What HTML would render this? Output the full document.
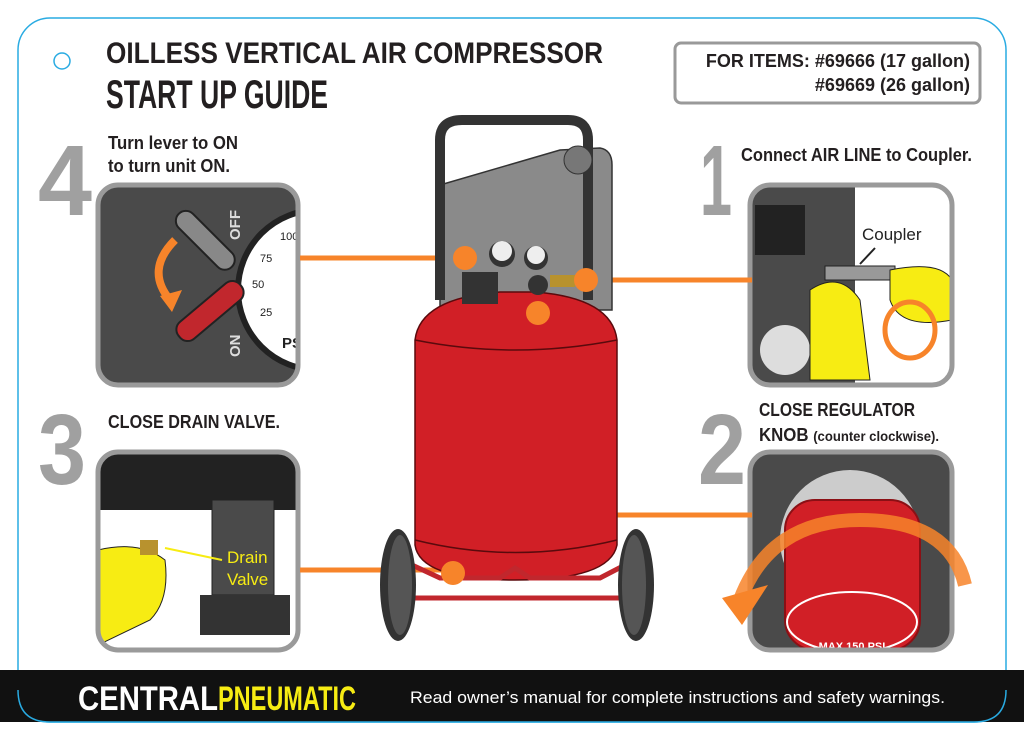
<!DOCTYPE html>
<html><head><meta charset="utf-8"><style>
body{margin:0;width:1024px;height:742px;overflow:hidden;background:#fff}
text{font-family:"Liberation Sans",sans-serif}
.c{font-weight:bold}
</style></head><body>
<svg width="1024" height="742" viewBox="0 0 1024 742" xmlns="http://www.w3.org/2000/svg">
<defs>
<clipPath id="p4"><rect x="98" y="185" width="200" height="200" rx="20"/></clipPath>
<clipPath id="p3"><rect x="98" y="452" width="200" height="198" rx="20"/></clipPath>
<clipPath id="p1"><rect x="750" y="185" width="202" height="200" rx="20"/></clipPath>
<clipPath id="p2"><rect x="750" y="452" width="202" height="198" rx="20"/></clipPath>
</defs>
<rect x="18" y="18" width="988" height="704" rx="32" fill="#fff" stroke="#29abe2" stroke-width="1.5"/>
<rect x="0" y="670" width="1024" height="52" fill="#111"/>
<path d="M18 690 Q18 722 50 722 H974 Q1006 722 1006 690" fill="none" stroke="#29abe2" stroke-width="1.5"/>
<circle cx="62" cy="61" r="8" fill="none" stroke="#29abe2" stroke-width="1.5"/>
<text x="106" y="63" class="c" font-size="30" fill="#231f20" textLength="497" lengthAdjust="spacingAndGlyphs">OILLESS VERTICAL AIR COMPRESSOR</text>
<text x="106" y="108" class="c" font-size="40" fill="#231f20" textLength="222" lengthAdjust="spacingAndGlyphs">START UP GUIDE</text>
<rect x="675" y="43" width="305" height="60" rx="6" fill="#fff" stroke="#999" stroke-width="3"/>
<text x="970" y="67" font-size="18" font-weight="bold" fill="#231f20" text-anchor="end">FOR ITEMS: #69666 (17 gallon)</text>
<text x="970" y="91" font-size="18" font-weight="bold" fill="#231f20" text-anchor="end">#69669 (26 gallon)</text>
<!-- numbers -->
<text x="38" y="215" class="c" font-size="100" fill="#a0a0a0" textLength="54" lengthAdjust="spacingAndGlyphs">4</text>
<text x="38" y="484" class="c" font-size="100" fill="#a0a0a0" textLength="48" lengthAdjust="spacingAndGlyphs">3</text>
<text x="700" y="215" class="c" font-size="100" fill="#a0a0a0" textLength="32" lengthAdjust="spacingAndGlyphs">1</text>
<text x="698" y="484" class="c" font-size="100" fill="#a0a0a0" textLength="48" lengthAdjust="spacingAndGlyphs">2</text>
<text x="108" y="149" class="c" font-size="18" fill="#231f20" textLength="130" lengthAdjust="spacingAndGlyphs">Turn lever to ON</text>
<text x="108" y="172" class="c" font-size="18" fill="#231f20" textLength="122" lengthAdjust="spacingAndGlyphs">to turn unit ON.</text>
<text x="108" y="428" class="c" font-size="18" fill="#231f20" textLength="172" lengthAdjust="spacingAndGlyphs">CLOSE DRAIN VALVE.</text>
<text x="741" y="161" class="c" font-size="18" fill="#231f20" textLength="231" lengthAdjust="spacingAndGlyphs">Connect AIR LINE to Coupler.</text>
<text x="759" y="416" class="c" font-size="18" fill="#231f20" textLength="156" lengthAdjust="spacingAndGlyphs">CLOSE REGULATOR</text>
<text x="759" y="441" class="c" font-size="18" fill="#231f20" textLength="180" lengthAdjust="spacingAndGlyphs">KNOB <tspan font-size="14">(counter clockwise).</tspan></text>
<!-- panel 4 -->
<rect x="98" y="185" width="200" height="200" rx="20" fill="#4a4a4a"/>
<g clip-path="url(#p4)">
<circle cx="318" cy="290" r="80" fill="#fff" stroke="#222" stroke-width="6"/>
<text x="280" y="240" font-size="11" fill="#222">100</text>
<text x="260" y="262" font-size="11" fill="#222">75</text>
<text x="252" y="288" font-size="11" fill="#222">50</text>
<text x="260" y="316" font-size="11" fill="#222">25</text>
<text x="282" y="348" font-size="15" font-weight="bold" fill="#222">PSI</text>
<text x="240" y="240" font-size="15" font-weight="bold" fill="#ddd" transform="rotate(-90 240 240)">OFF</text>
<text x="240" y="357" font-size="15" font-weight="bold" fill="#ddd" transform="rotate(-90 240 357)">ON</text>
<rect x="170" y="225" width="75" height="20" rx="10" fill="#888" stroke="#222" stroke-width="2" transform="rotate(45 200 235)"/>
<rect x="170" y="300" width="80" height="22" rx="10" fill="#c1272d" stroke="#222" stroke-width="2" transform="rotate(-40 210 311)"/>
<path d="M175 240 Q145 270 170 300" fill="none" stroke="#f7842a" stroke-width="8"/>
<polygon points="160,296 182,290 172,312" fill="#f7842a"/>
</g>
<rect x="98" y="185" width="200" height="200" rx="20" fill="none" stroke="#9a9a9a" stroke-width="5"/>
<!-- panel 3 -->
<rect x="98" y="452" width="200" height="198" rx="20" fill="#fff"/>
<g clip-path="url(#p3)">
<rect x="98" y="452" width="200" height="58" fill="#222"/>
<rect x="212" y="500" width="62" height="95" fill="#4a4a4a" stroke="#222"/>
<rect x="200" y="595" width="90" height="40" fill="#333"/>
<path d="M98 550 Q140 540 165 560 Q170 600 150 620 L98 645 Z" fill="#f7ec13" stroke="#222"/>
<rect x="140" y="540" width="18" height="15" fill="#b8922e"/>
<line x1="165" y1="548" x2="222" y2="560" stroke="#f7ec13" stroke-width="2"/>
<text x="227" y="563" font-size="17" fill="#f7ec13">Drain</text>
<text x="227" y="585" font-size="17" fill="#f7ec13">Valve</text>
</g>
<rect x="98" y="452" width="200" height="198" rx="20" fill="none" stroke="#9a9a9a" stroke-width="5"/>
<!-- panel 1 -->
<rect x="750" y="185" width="202" height="200" rx="20" fill="#fff"/>
<g clip-path="url(#p1)">
<rect x="750" y="185" width="105" height="200" fill="#4a4a4a"/>
<rect x="755" y="205" width="50" height="50" fill="#222"/>
<circle cx="785" cy="350" r="25" fill="#ddd"/>
<rect x="825" y="266" width="70" height="14" fill="#999" stroke="#222"/>
<path d="M810 290 Q840 270 860 300 L870 380 L810 380 Z" fill="#f7ec13" stroke="#222"/>
<path d="M890 270 Q940 260 952 280 L952 320 Q900 330 890 300 Z" fill="#f7ec13" stroke="#222"/>
<ellipse cx="910" cy="330" rx="25" ry="28" fill="none" stroke="#f7842a" stroke-width="5"/>
<text x="862" y="240" font-size="17" fill="#222">Coupler</text>
<line x1="875" y1="248" x2="860" y2="264" stroke="#222" stroke-width="2"/>
</g>
<rect x="750" y="185" width="202" height="200" rx="20" fill="none" stroke="#9a9a9a" stroke-width="5"/>
<!-- panel 2 -->
<rect x="750" y="452" width="202" height="198" rx="20" fill="#4a4a4a"/>
<g clip-path="url(#p2)">
<circle cx="850" cy="540" r="70" fill="#ccc"/>
<rect x="785" y="500" width="135" height="150" rx="30" fill="#d11f26" stroke="#8b1015" stroke-width="2"/>
<ellipse cx="852" cy="622" rx="65" ry="30" fill="#d11f26" stroke="#fff" stroke-width="2"/>
<text x="852" y="650" font-size="11" font-weight="bold" fill="#fff" text-anchor="middle">MAX 150 PSI</text>
</g>
<rect x="750" y="452" width="202" height="198" rx="20" fill="none" stroke="#9a9a9a" stroke-width="5"/>
<path d="M740 600 Q770 520 860 520 Q950 520 965 585" fill="none" stroke="#f7842a" stroke-width="14" opacity="0.85"/>
<polygon points="722,598 768,585 742,625" fill="#f7842a"/>
<!-- connectors -->
<g stroke="#f7842a" stroke-width="5" fill="none">
<line x1="300" y1="258" x2="465" y2="258"/>
<line x1="585" y1="280" x2="752" y2="280"/>
<polyline points="538,313 538,515 752,515"/>
<line x1="300" y1="570" x2="452" y2="570"/>
</g>
<!-- compressor -->
<path d="M440 185 L560 150 L600 148 Q612 150 612 165 L612 310 L440 310 Z" fill="#8a8a8a" stroke="#333" stroke-width="1.5"/>
<path d="M440 300 V140 Q440 120 462 120 H568 Q588 120 588 140 V300" fill="none" stroke="#333" stroke-width="10"/>
<circle cx="578" cy="160" r="14" fill="#777" stroke="#333"/>
<path d="M415 340 Q420 298 500 292 L535 292 Q612 298 617 340 L617 545 Q610 580 515 580 Q420 580 415 545 Z" fill="#d11f26" stroke="#5a0a0d" stroke-width="1.5"/>
<path d="M415 340 Q515 360 617 340" fill="none" stroke="#5a0a0d" stroke-width="1.5"/>
<path d="M415 540 Q515 565 617 540" fill="none" stroke="#5a0a0d" stroke-width="1.5"/>
<rect x="462" y="272" width="36" height="32" fill="#333"/>
<circle cx="502" cy="254" r="13" fill="#333"/><circle cx="502" cy="251" r="10" fill="#eee"/>
<circle cx="536" cy="258" r="12" fill="#333"/><circle cx="536" cy="255" r="9" fill="#eee"/>
<circle cx="538" cy="285" r="10" fill="#333"/>
<rect x="550" y="275" width="25" height="12" fill="#b8922e"/>
<path d="M412 565 L440 578 L500 578 L515 568 L530 578 L600 578 L625 565 L625 598 L412 598 Z" fill="none" stroke="#c1272d" stroke-width="5"/>
<ellipse cx="398" cy="585" rx="18" ry="56" fill="#333"/><ellipse cx="400" cy="585" rx="12" ry="50" fill="#555"/>
<ellipse cx="636" cy="585" rx="18" ry="56" fill="#333"/><ellipse cx="634" cy="585" rx="12" ry="50" fill="#555"/>
<g fill="#f7842a">
<circle cx="465" cy="258" r="12"/><circle cx="586" cy="280" r="12"/>
<circle cx="538" cy="313" r="12"/><circle cx="453" cy="573" r="12"/>
</g>
<!-- footer -->
<text x="78" y="710" class="c" font-size="34" fill="#fff" textLength="140" lengthAdjust="spacingAndGlyphs">CENTRAL</text>
<text x="218" y="710" class="c" font-size="34" fill="#f7ec13" textLength="138" lengthAdjust="spacingAndGlyphs">PNEUMATIC</text>
<text x="410" y="703" font-size="17" fill="#fff" textLength="535" lengthAdjust="spacingAndGlyphs">Read owner’s manual for complete instructions and safety warnings.</text>
</svg>
</body></html>
